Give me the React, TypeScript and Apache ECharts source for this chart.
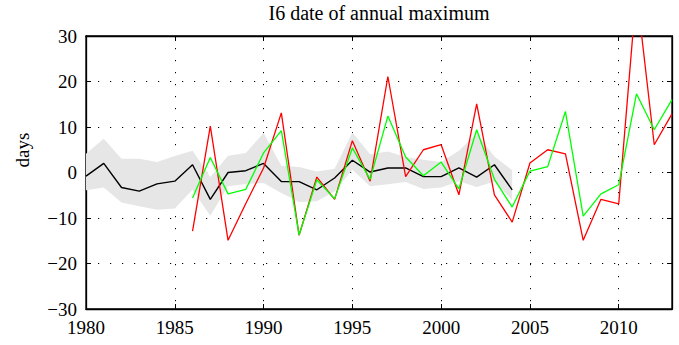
import React, { useEffect, useRef } from "react";
import * as echarts from "echarts";

const bandYears = [1980, 1981, 1982, 1983, 1984, 1985, 1986, 1987, 1988, 1989, 1990, 1991, 1992, 1993, 1994, 1995, 1996, 1997, 1998, 1999, 2000, 2001, 2002, 2003, 2004];
const blackValues = [-0.8, 2.0, -3.3, -4.1, -2.5, -1.9, 1.7, -5.9, 0, 0.4, 2.0, -2.0, -2.0, -3.8, -1.2, 2.7, 0.1, 1.0, 1.0, -0.9, -0.9, 1.0, -1.0, 1.7, -3.8];
const bandUpper = [4.1, 7.4, 3.0, 3.0, 2.3, 3.6, 4.8, -1.0, 3.7, 4.3, 8.7, 1.5, 1.2, 0.2, 0.8, 8.8, 4.0, 4.6, 3.4, 2.8, 2.3, 4.8, 8.6, 3.5, 0.5];
const bandLower = [-3.9, -3.3, -6.6, -7.4, -8.2, -7.9, -3.8, -9.5, -3.0, -2.5, -2.3, -4.5, -6.5, -6.3, -4.2, 0.6, -3.0, -2.6, -2.1, -3.6, -3.3, -1.9, -3.2, -2.0, -6.1];

const obsYears = [1986, 1987, 1988, 1989, 1990, 1991, 1992, 1993, 1994, 1995, 1996, 1997, 1998, 1999, 2000, 2001, 2002, 2003, 2004, 2005, 2006, 2007, 2008, 2009, 2010, 2011, 2012, 2013];
const redValues = [-12.9, 10.2, -14.9, -6.8, 1.0, 13.1, -13.8, -1.0, -5.9, 7.0, -1.9, 21.1, -0.9, 5.0, 6.1, -4.9, 15.1, -4.9, -10.9, 2.1, 5.0, 4.1, -14.9, -5.9, -6.9, 40, 6.1, 12.9];
const greenValues = [-5.6, 3.3, -4.7, -3.7, 4.3, 9.2, -13.7, -1.6, -5.8, 5.4, -1.5, 12.4, 3.4, -0.7, 2.3, -3.6, 9.4, -1.5, -7.6, 0.3, 1.3, 13.4, -9.6, -4.7, -2.7, 17.3, 9.4, 16.0];

const xTickYears = [1980, 1985, 1990, 1995, 2000, 2005, 2010];
const yTicks = [-30, -20, -10, 0, 10, 20, 30];

const titleText = "I6 date of annual maximum";
const yLabel = "days";

const FONT = "Liberation Serif";

export default function App() {
  const ref = useRef<HTMLDivElement>(null);
  useEffect(() => {
    if (!ref.current) return;
    const chart = echarts.init(ref.current, undefined, { renderer: "svg" });
    const pair = (xs: number[], ys: number[]) => xs.map((x, i) => [x, ys[i]]);
    const fmtY = (v: number) => (v < 0 ? "\u2212" + Math.abs(v) : String(v));
    const dotted = { color: "#000", width: 1, type: [1.2, 10.8] as any };
    const gridRect = { left: 86, right: 7, top: 36, bottom: 36 };
    const richT = { t: { fontFamily: FONT, fontSize: 19, color: "#000" } };
    const labelStyle = {
      show: true,
      margin: 9,
      fontFamily: FONT,
      fontSize: 19,
      color: "#000",
      rich: richT,
    };
    const xBase = {
      type: "value" as const,
      min: 1980,
      max: 2013,
      interval: 5,
      axisLine: { show: true, onZero: false, lineStyle: { color: "#000", width: 1.3 } },
      axisTick: { show: true, inside: true, length: 5, lineStyle: { color: "#000" } },
    };
    const yBase = {
      type: "value" as const,
      min: -30,
      max: 30,
      interval: 10,
      axisLine: { show: true, onZero: false, lineStyle: { color: "#000", width: 1.3 } },
      axisTick: { show: true, inside: true, length: 5, lineStyle: { color: "#000" } },
    };
    chart.setOption({
      animation: false,
      backgroundColor: "#fff",
      textStyle: { fontFamily: FONT },
      grid: { ...gridRect, show: true, borderColor: "#000", borderWidth: 1.3 },
      xAxis: [
        {
          ...xBase,
          position: "bottom",
          axisLabel: {
            ...labelStyle,
            formatter: (v: number) => (xTickYears.includes(v) ? "{t|" + String(v) + "}" : ""),
          },
          splitLine: { show: true, lineStyle: dotted },
        },
        {
          ...xBase,
          position: "top",
          axisLabel: { show: false },
          splitLine: { show: false },
        },
      ],
      yAxis: [
        {
          ...yBase,
          position: "left",
          axisLabel: {
            ...labelStyle,
            formatter: (v: number) => (yTicks.includes(v) ? "{t|" + fmtY(v) + "}" : ""),
          },
          splitLine: { show: true, lineStyle: dotted },
        },
        {
          ...yBase,
          position: "right",
          axisLabel: { show: false },
          splitLine: { show: false },
        },
      ],
      graphic: [
        {
          type: "text",
          x: 379,
          y: 3,
          style: {
            text: titleText,
            fontFamily: FONT,
            fontSize: 20,
            fill: "#000",
            textAlign: "center",
            textVerticalAlign: "top",
          },
        },
        {
          type: "text",
          x: 22,
          y: 150,
          rotation: Math.PI / 2,
          style: {
            text: yLabel,
            fontFamily: FONT,
            fontSize: 19,
            fill: "#000",
            textAlign: "center",
            textVerticalAlign: "middle",
          },
        },
      ],
      series: [
        {
          type: "custom",
          name: "band",
          data: [0],
          silent: true,
          z: 1,
          renderItem: (params: any, api: any) => {
            const top = bandYears.map((y, i) => api.coord([y, bandUpper[i]]));
            const bottom = bandYears.map((y, i) => api.coord([y, bandLower[i]])).reverse();
            return {
              type: "polygon",
              shape: { points: top.concat(bottom) },
              style: { fill: "#e6e6e6", stroke: "none" },
            };
          },
        },
        {
          type: "line",
          name: "model",
          data: pair(bandYears, blackValues),
          symbol: "none",
          lineStyle: { color: "#000", width: 1.4 },
          z: 3,
        },
        {
          type: "line",
          name: "red",
          data: pair(obsYears, redValues),
          symbol: "none",
          clip: true,
          lineStyle: { color: "#ff0000", width: 1.3 },
          z: 4,
        },
        {
          type: "line",
          name: "green",
          data: pair(obsYears, greenValues),
          symbol: "none",
          clip: true,
          lineStyle: { color: "#00ff00", width: 1.3 },
          z: 5,
        },
      ],
    });
    return () => chart.dispose();
  }, []);
  return <div ref={ref} style={{ width: 679, height: 345, position: "absolute", left: 0, top: 0 }} />;
}
